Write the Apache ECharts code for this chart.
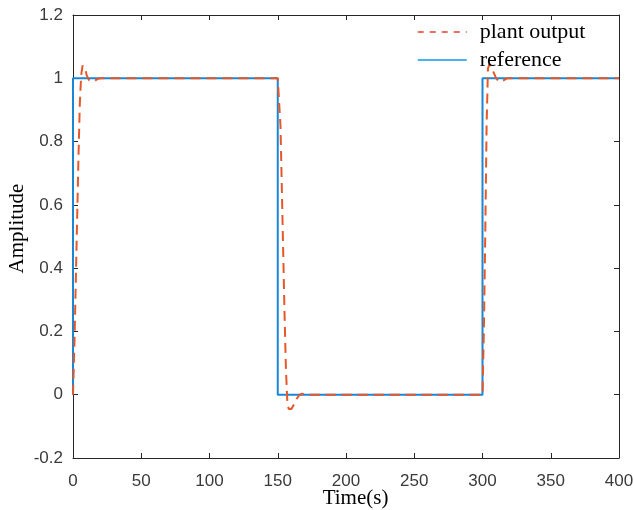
<!DOCTYPE html>
<html>
<head>
<meta charset="utf-8">
<script src="https://cdn.jsdelivr.net/npm/echarts@6/dist/echarts.min.js"></script>
<style>
  html, body { margin: 0; padding: 0; background: #fff; }
  #chart { width: 634px; height: 510px; }
</style>
</head>
<body>
<div id="chart"></div>
<script>
// Square-wave reference signal
const refTime   = [0, 0, 150, 150, 300, 300, 400];
const refValues = [0, 1, 1, 0, 0, 1, 1];

// Plant response following the reference
const plantTime = [0, 1, 2, 3, 4, 5, 6, 7, 8, 9, 10, 11, 12, 14, 16, 18, 20,
                   150, 151, 152, 153, 154, 155, 156, 157, 158, 159, 160, 162, 164, 166, 168, 170,
                   300, 301, 302, 303, 304, 305, 306, 308, 310, 312, 314, 316, 318, 400];
const plantValues = [0, 0.15, 0.35, 0.55, 0.75, 0.92, 1.01, 1.04, 1.045, 1.03, 1.01, 1.0, 0.993, 0.99, 0.992, 0.998, 1.0,
                     1.0, 1.0, 0.85, 0.65, 0.45, 0.25, 0.08, -0.02, -0.045, -0.05, -0.045, -0.03, -0.012, 0, 0.003, 0,
                     0, 0.2, 0.5, 0.85, 1.03, 1.045, 1.04, 1.02, 1.0, 0.99, 0.99, 0.995, 1.0, 1.0];

const xTicks = [0, 50, 100, 150, 200, 250, 300, 350, 400];
const yTicks = [-0.2, 0, 0.2, 0.4, 0.6, 0.8, 1, 1.2];

const zip = (xs, ys) => xs.map((x, i) => [x, ys[i]]);

const axisColor = '#262626';
const tickFont = { color: '#3a3a3a', fontFamily: 'Liberation Sans, Arial, sans-serif', fontSize: 17 };
const serif = 'Liberation Serif, Times New Roman, serif';
const refColor = '#1a86d6';
const plantColor = '#e5582a';

const frameX = {
  type: 'value', min: xTicks[0], max: xTicks[xTicks.length - 1], interval: 50,
  axisLine: { show: true, onZero: false, lineStyle: { color: axisColor, width: 1 } },
  axisTick: { show: true, inside: true, length: 5, lineStyle: { color: axisColor } },
  splitLine: { show: false }
};
const frameY = {
  type: 'value', min: yTicks[0], max: yTicks[yTicks.length - 1], interval: 0.2,
  axisLine: { show: true, onZero: false, lineStyle: { color: axisColor, width: 1 } },
  axisTick: { show: true, inside: true, length: 5, lineStyle: { color: axisColor } },
  splitLine: { show: false }
};

const chart = echarts.init(document.getElementById('chart'), null, { renderer: 'canvas' });
chart.setOption({
  animation: false,
  backgroundColor: '#fff',
  grid: { left: 73, right: 15, top: 15, bottom: 52, containLabel: false, outerBoundsMode: 'none' },
  legend: {
    orient: 'vertical',
    left: 417, top: 21, padding: 0,
    itemWidth: 49, itemHeight: 10, itemGap: 6,
    itemStyle: { opacity: 0 },
    textStyle: { fontFamily: serif, fontSize: 22, color: '#000', padding: [0, 0, 0, 8] },
    data: [
      { name: 'plant output', lineStyle: { color: '#ee3b2b', width: 1.5, type: [6, 6] } },
      { name: 'reference', lineStyle: { color: '#0a9be8', width: 1.5, type: 'solid' } }
    ]
  },
  xAxis: [
    Object.assign({}, frameX, {
      position: 'bottom',
      name: 'Time(s)', nameLocation: 'middle', nameGap: 30, nameMoveOverlap: false,
      nameTextStyle: { fontFamily: serif, fontSize: 21, color: '#000', padding: [0, 0, 0, 19] },
      axisLabel: Object.assign({ margin: 15 }, tickFont)
    }),
    Object.assign({}, frameX, { position: 'top', axisLabel: { show: false } })
  ],
  yAxis: [
    Object.assign({}, frameY, {
      position: 'left',
      name: 'Amplitude', nameLocation: 'middle', nameGap: 45, nameMoveOverlap: false,
      nameTextStyle: { fontFamily: serif, fontSize: 21, color: '#000', padding: [0, 0, 0, 16] },
      axisLabel: Object.assign({ margin: 10, formatter: v => String(+v.toFixed(1)) }, tickFont)
    }),
    Object.assign({}, frameY, { position: 'right', axisLabel: { show: false } })
  ],
  series: [
    {
      name: 'reference', type: 'line', xAxisIndex: 0, yAxisIndex: 0,
      data: zip(refTime, refValues), showSymbol: false, symbol: 'none',
      lineStyle: { color: refColor, width: 2 }, itemStyle: { color: refColor }, z: 2
    },
    {
      name: 'plant output', type: 'line', xAxisIndex: 0, yAxisIndex: 0,
      data: zip(plantTime, plantValues), showSymbol: false, symbol: 'none',
      lineStyle: { color: plantColor, width: 2, type: [10, 6] }, itemStyle: { color: plantColor }, z: 3
    }
  ]
});
</script>
</body>
</html>
